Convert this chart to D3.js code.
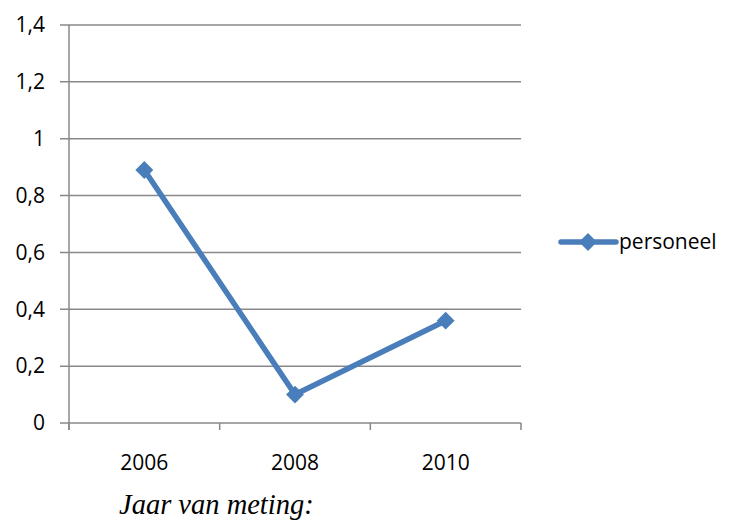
<!DOCTYPE html>
<html><head><meta charset="utf-8">
<script src="https://cdn.jsdelivr.net/npm/d3@7"></script>
<style>body{margin:0;background:#fff}svg{display:block}</style>
</head><body>
<script>
const categories = ["2006", "2008", "2010"];
const values = [0.89, 0.10, 0.36];
const yTicks = [0, 0.2, 0.4, 0.6, 0.8, 1.0, 1.2, 1.4];
const seriesName = "personeel";
const axisTitle = "Jaar van meting:";

(function () {
const W = 730, H = 525;
const svg = d3.select("body").append("svg").attr("width", W).attr("height", H);
const pL = 69, pR = 521, pT = 25, pB = 423;
const color = "#4a7ebb";
const grid = "#888";
const font = "'Open Sans', 'Liberation Sans', sans-serif";
const fs = 21;

const x = d3.scaleBand().domain(categories).range([pL, pR]);
const y = d3.scaleLinear().domain([0, 1.4]).range([pB, pT]);

svg.append("g").selectAll("line").data(yTicks).join("line")
  .attr("x1", pL - 9).attr("x2", pR)
  .attr("y1", d => y(d)).attr("y2", d => y(d))
  .attr("stroke", grid).attr("stroke-width", 1.5);

svg.append("line").attr("x1", pL).attr("x2", pL).attr("y1", pT).attr("y2", pB + 7)
  .attr("stroke", grid).attr("stroke-width", 1.5);

const edges = categories.map(c => x(c)).concat([pR]);
svg.append("g").selectAll("line").data(edges).join("line")
  .attr("x1", d => d).attr("x2", d => d).attr("y1", pB).attr("y2", pB + 7)
  .attr("stroke", grid).attr("stroke-width", 1.5);

const fmt = d => d3.format(".1f")(d).replace(/\.0$/, "").replace(".", ",");
svg.append("g").selectAll("text").data(yTicks).join("text")
  .attr("x", 45).attr("y", d => y(d)).attr("dy", "0.35em")
  .attr("text-anchor", "end").attr("font-family", font).attr("font-size", fs)
  .attr("fill", "#000").text(fmt);

svg.append("g").selectAll("text").data(categories).join("text")
  .attr("x", d => x(d) + x.bandwidth() / 2).attr("y", 463).attr("dy", "0.35em")
  .attr("text-anchor", "middle").attr("font-family", font).attr("font-size", fs)
  .attr("fill", "#000").text(d => d);

svg.append("text").attr("x", 119).attr("y", 514)
  .attr("font-family", "'Liberation Serif', 'Times New Roman', serif").attr("font-style", "italic")
  .attr("font-size", 28.5).attr("fill", "#000").text(axisTitle);

const pts = categories.map((c, i) => [x(c) + x.bandwidth() / 2, y(values[i])]);
svg.append("path").attr("d", d3.line()(pts)).attr("fill", "none")
  .attr("stroke", color).attr("stroke-width", 5.5).attr("stroke-linejoin", "round");

const sq = d3.symbol().type(d3.symbolSquare).size(160)();
svg.append("g").selectAll("path").data(pts).join("path")
  .attr("transform", d => `translate(${d[0]},${d[1]}) rotate(45)`)
  .attr("d", sq).attr("fill", color);

const ly = 242;
svg.append("line").attr("x1", 561).attr("x2", 616).attr("y1", ly).attr("y2", ly)
  .attr("stroke", color).attr("stroke-width", 5.5).attr("stroke-linecap", "round");
svg.append("path").attr("transform", `translate(588,${ly}) rotate(45)`)
  .attr("d", sq).attr("fill", color);
svg.append("text").attr("x", 619).attr("y", ly).attr("dy", "0.35em")
  .attr("font-family", font).attr("font-size", fs).attr("fill", "#000").text(seriesName);
})();
</script>
</body></html>
